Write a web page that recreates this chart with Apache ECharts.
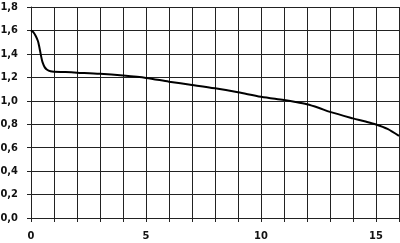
<!DOCTYPE html>
<html>
<head>
<meta charset="utf-8">
<script src="https://cdn.jsdelivr.net/npm/echarts@6/dist/echarts.min.js"></script>
<style>html,body{margin:0;padding:0;background:#fff}#c{width:400px;height:243px}</style>
</head>
<body>
<div id="c"></div>
<script>
var xValues = [0, 0.1, 0.2, 0.3, 0.35, 0.4, 0.45, 0.5, 0.6, 0.7, 0.85, 1.0, 1.5, 2, 3, 4, 5, 6, 7, 8, 9, 10, 11, 11.5, 12, 12.5, 13, 14, 14.5, 15, 15.5, 16];
var yValues = [1.6, 1.585, 1.555, 1.51, 1.47, 1.42, 1.37, 1.33, 1.285, 1.265, 1.252, 1.248, 1.245, 1.24, 1.23, 1.215, 1.195, 1.163, 1.135, 1.106, 1.072, 1.034, 1.006, 0.99, 0.97, 0.94, 0.905, 0.85, 0.825, 0.798, 0.76, 0.70];
var xLabelValues = [0, 5, 10, 15];

var data = xValues.map(function (x, i) { return [x, yValues[i]]; });
var chart = echarts.init(document.getElementById('c'), null, {renderer: 'canvas'});
var labelStyle = {fontFamily: '"DejaVu Sans Condensed", "DejaVu Sans", sans-serif', fontWeight: 'bold', fontSize: 11, color: '#111'};
chart.setOption({
  animation: false,
  grid: {left: 31, right: 1, top: 7, bottom: 25, containLabel: false, outerBoundsMode: 'none'},
  xAxis: {
    type: 'value', min: 0, max: 16, interval: 1,
    axisLine: {show: true, lineStyle: {color: '#222', width: 1}},
    axisTick: {show: true, length: 4, lineStyle: {color: '#222'}},
    splitLine: {show: true, lineStyle: {color: '#222', width: 1}},
    axisLabel: Object.assign({margin: 13, formatter: function (v) { return xLabelValues.indexOf(v) >= 0 ? String(v) : ''; }}, labelStyle)
  },
  yAxis: {
    type: 'value', min: 0, max: 1.8, interval: 0.2,
    axisLine: {show: true, lineStyle: {color: '#222', width: 1}},
    axisTick: {show: true, length: 4, lineStyle: {color: '#222'}},
    splitLine: {show: true, lineStyle: {color: '#222', width: 1}},
    axisLabel: Object.assign({margin: 13, formatter: function (v) { return v.toFixed(1).replace('.', ','); }}, labelStyle)
  },
  series: [{
    type: 'line', data: data, smooth: 0.3, showSymbol: false,
    lineStyle: {color: '#000', width: 2}
  }]
});
</script>
</body>
</html>
